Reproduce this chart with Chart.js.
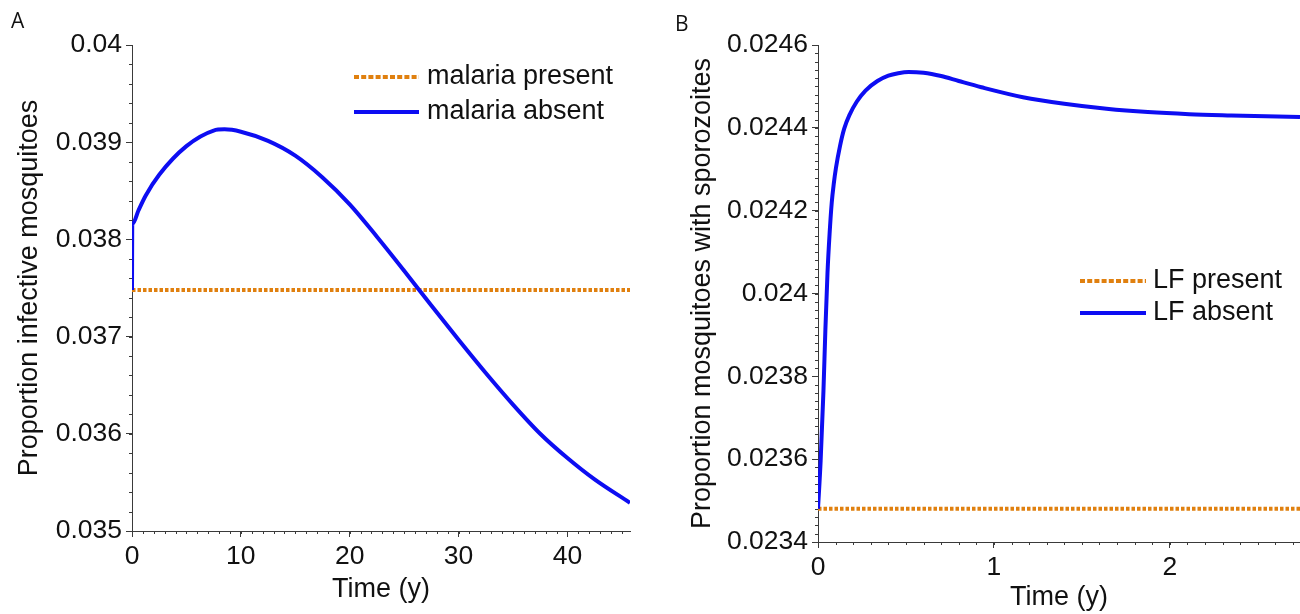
<!DOCTYPE html>
<html><head><meta charset="utf-8">
<script src="https://cdn.jsdelivr.net/npm/chart.js@4.4.1/dist/chart.umd.min.js"></script>
<style>
html,body{margin:0;padding:0;background:#fff;width:1300px;height:614px;overflow:hidden;}
#wrap{position:relative;width:1300px;height:614px;}
canvas{position:absolute;top:0;}
.panel{position:absolute;font-family:'Open Sans','Noto Sans',sans-serif;font-size:21px;color:#111;line-height:1;}
</style></head><body>
<div id="wrap">
<canvas id="cA" width="650" height="614" style="left:0"></canvas>
<canvas id="cB" width="650" height="614" style="left:650px"></canvas>
<div class="panel" style="left:11px;top:10px">A</div>
<div class="panel" style="left:675px;top:13px">B</div>
</div>
<script>
// ---------- Panel A data ----------
const timeA = [0, 0.02, 0.06, 0.6, 1.25, 2.5, 5, 7.5, 8.5, 10, 12.5, 15, 17.5, 20, 22.5, 25, 27.5, 30, 32.5, 35, 37.5, 40, 42.5, 45.75];
const absentA = [0.03748, 0.03815, 0.03816, 0.0383, 0.03845, 0.038666, 0.03896, 0.03912, 0.039132, 0.039108, 0.039013, 0.038861, 0.038637, 0.038361, 0.038028, 0.037678, 0.03732, 0.036968, 0.036626, 0.036301, 0.036001, 0.035751, 0.035531, 0.03529];
const presentTimeA = [0, 45.75];
const presentA = [0.03748, 0.03748];
const labelsA = ['malaria present', 'malaria absent'];

// ---------- Panel B data ----------
const timeB = [0, 0.015, 0.031, 0.042, 0.054, 0.066, 0.078, 0.09, 0.102, 0.125, 0.149, 0.18, 0.22, 0.27, 0.338, 0.4, 0.456, 0.515, 0.6, 0.7, 0.8, 0.929, 1.165, 1.4, 1.64, 1.875, 2.11, 2.35, 2.74];
const absentB = [0.02348, 0.023596, 0.023765, 0.023913, 0.02405, 0.024145, 0.024219, 0.024266, 0.024303, 0.024356, 0.024398, 0.024432, 0.024463, 0.02449, 0.024513, 0.024526, 0.024532, 0.024535, 0.024533, 0.024525, 0.024513, 0.024498, 0.024474, 0.024458, 0.024446, 0.024438, 0.024433, 0.02443, 0.024426];
const presentTimeB = [0, 2.74];
const presentB = [0.02348, 0.02348];
const labelsB = ['LF present', 'LF absent'];

const FONT = '"Liberation Sans", Arial, sans-serif';
const TXT = '#111';
const AX = '#3a3a3a';
const ORANGE = '#E0800F';
const BLUE = '#0D0DF2';

const pts = (xs, ys) => xs.map((x, i) => ({x: x, y: ys[i]}));
const fmt = v => String(parseFloat(Number(v).toFixed(6)));

const minorTicks = {
  id: 'minorTicks',
  afterDraw(chart, args, o) {
    const ctx = chart.ctx, xs = chart.scales.x, ys = chart.scales.y;
    ctx.save();
    ctx.strokeStyle = AX; ctx.lineWidth = 1;
    const nx = Math.floor((xs.max - xs.min) / o.x + 1e-6);
    for (let i = 0; i <= nx; i++) {
      const px = Math.round(xs.getPixelForValue(xs.min + i * o.x)) + 0.5;
      ctx.beginPath(); ctx.moveTo(px, xs.top); ctx.lineTo(px, xs.top + 3); ctx.stroke();
    }
    const ny = Math.round((ys.max - ys.min) / o.y);
    for (let i = 0; i <= ny; i++) {
      const py = Math.round(ys.getPixelForValue(ys.min + i * o.y)) + 0.5;
      ctx.beginPath(); ctx.moveTo(ys.right, py); ctx.lineTo(ys.right - 3, py); ctx.stroke();
    }
    ctx.restore();
  }
};

const inLegend = {
  id: 'inLegend',
  afterDraw(chart, args, o) {
    const ctx = chart.ctx;
    chart.data.datasets.forEach((ds, i) => {
      const y = o.y + i * o.dy;
      ctx.save();
      ctx.strokeStyle = ds.borderColor; ctx.lineWidth = o.lw;
      ctx.setLineDash(ds.borderDash ? o.dash : []);
      ctx.beginPath(); ctx.moveTo(o.x0, y); ctx.lineTo(o.x1, y); ctx.stroke();
      ctx.setLineDash([]);
      ctx.fillStyle = TXT; ctx.font = o.size + 'px ' + FONT;
      ctx.textBaseline = 'middle'; ctx.textAlign = 'left';
      ctx.fillText(ds.label, o.tx, y);
      ctx.restore();
    });
  }
};

function makeChart(id, cfg) {
  return new Chart(document.getElementById(id), {
    type: 'line',
    data: {
      datasets: [
        {label: cfg.labels[0], data: pts(cfg.pt, cfg.pv), borderColor: ORANGE, borderWidth: 4, borderDash: [3.5, 2], pointRadius: 0, order: 1, fill: false},
        {label: cfg.labels[1], data: pts(cfg.at, cfg.av), borderColor: BLUE, borderWidth: 4, pointRadius: 0, cubicInterpolationMode: 'monotone', order: 0, fill: false}
      ]
    },
    options: {
      responsive: false, animation: false, events: [],
      layout: {padding: cfg.padding},
      plugins: {legend: {display: false}, tooltip: {enabled: false}, minorTicks: cfg.minor, inLegend: cfg.legend},
      scales: {
        x: {
          type: 'linear', min: cfg.xmin, max: cfg.xmax,
          afterFit: s => { s.height = cfg.xh; },
          border: {display: true, color: AX, width: 1},
          grid: {drawOnChartArea: false, drawTicks: true, tickLength: 6, tickColor: AX},
          ticks: {stepSize: cfg.xstep, includeBounds: false, padding: 4, color: TXT, font: {family: FONT, size: 26.5}, maxRotation: 0, autoSkip: false, callback: fmt},
          title: {display: true, text: 'Time (y)', color: TXT, font: {family: FONT, size: 27}, padding: {top: 0, bottom: cfg.xtpad}}
        },
        y: {
          type: 'linear', min: cfg.ymin, max: cfg.ymax,
          afterFit: s => { s.width = cfg.yw; },
          border: {display: true, color: AX, width: 1},
          grid: {drawOnChartArea: false, drawTicks: true, tickLength: 6, tickColor: AX},
          ticks: {stepSize: cfg.ystep, padding: 4, color: TXT, font: {family: FONT, size: 26.5}, autoSkip: false, callback: fmt},
          title: {display: true, text: cfg.ytitle, color: TXT, font: {family: FONT, size: 27}, padding: {top: cfg.ytpad, bottom: 0}}
        }
      }
    },
    plugins: [minorTicks, inLegend]
  });
}

makeChart('cA', {
  labels: labelsA, pt: presentTimeA, pv: presentA, at: timeA, av: absentA,
  xmin: 0, xmax: 45.75, xstep: 10, ymin: 0.035, ymax: 0.04, ystep: 0.001,
  padding: {top: 45, right: 20, bottom: 0, left: 0}, xh: 83, yw: 132, xtpad: 8, ytpad: 13,
  ytitle: 'Proportion infective mosquitoes',
  minor: {x: 1, y: 0.0002},
  legend: {x0: 354, x1: 419, tx: 427, y: 77, dy: 35, lw: 4, size: 27, dash: [5, 2.2]}
});

makeChart('cB', {
  labels: labelsB, pt: presentTimeB, pv: presentB, at: timeB, av: absentB,
  xmin: 0, xmax: 2.74, xstep: 1, ymin: 0.0234, ymax: 0.0246, ystep: 0.0002,
  padding: {top: 45, right: 0, bottom: 0, left: 0}, xh: 72, yw: 168, xtpad: 0, ytpad: 36,
  ytitle: 'Proportion mosquitoes with sporozoites',
  minor: {x: 0.1, y: 0.00002},
  legend: {x0: 430, x1: 496, tx: 503, y: 281, dy: 32, lw: 4, size: 27, dash: [5, 2.2]}
});
</script>
</body></html>
